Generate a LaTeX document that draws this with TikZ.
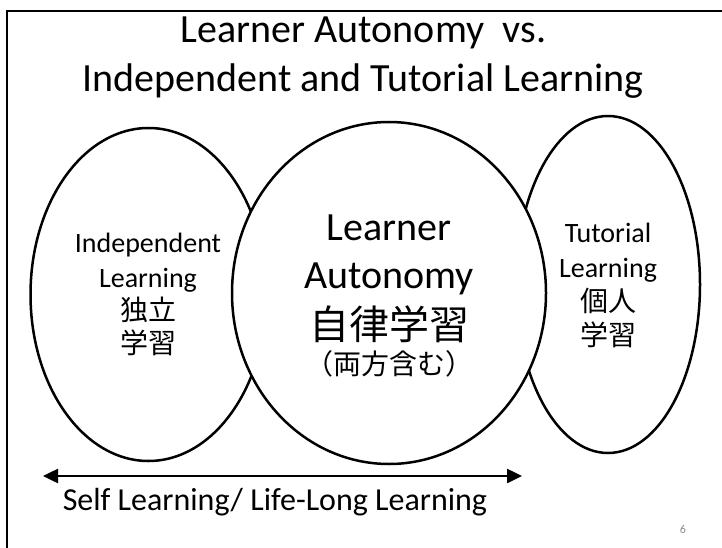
\documentclass[tikz,border=0pt]{standalone}
\usepackage{fontspec}
\setmainfont{Carlito}
\newfontfamily\jp{Noto Sans CJK JP}
\usetikzlibrary{shapes.geometric,arrows.meta}
\definecolor{pgnum}{HTML}{8C8C8C}
\tikzset{
  oval/.style={draw, ellipse, line width=2.5pt, inner sep=0pt, fill=white},
  ttl/.style={anchor=base, inner sep=0pt, font=\fontsize{40}{48}\selectfont},
  big/.style={anchor=base, inner sep=0pt, font=\fontsize{40}{48}\selectfont},
  bigjp/.style={anchor=base, inner sep=0pt, font=\jp\fontsize{40}{48}\selectfont},
  side/.style={anchor=base, inner sep=0pt, font=\fontsize{28}{34}\selectfont},
  sidejp/.style={anchor=base, inner sep=0pt, font=\jp\fontsize{28}{34}\selectfont},
  foot/.style={anchor=base, inner sep=0pt, font=\fontsize{32}{38}\selectfont},
  line/.style={line width=2.5pt},
}
\begin{document}
\begin{tikzpicture}[x=1pt,y=-1pt]
\useasboundingbox (0,0) rectangle (722,548);
\clip (0,0) rectangle (722,548);
\draw[line] (7,11) rectangle (745,575);

% title
\node[ttl] (t1) at (363.5,43) {Learner Autonomy~~vs.};
\node[ttl] (t2) at (363,92) {Independent and Tutorial Learning};

% ellipses (centre one drawn last, on top)
\node[oval, minimum width=236pt, minimum height=333pt] (L) at (148.5,294.5) {};
\node[oval, minimum width=184pt, minimum height=337pt] (R) at (608,284.5) {};
\node[oval, minimum width=314pt, minimum height=342pt] (C) at (389,293) {};

% left text
\node[side]   (l1) at (148,252) {Independent};
\node[side]   (l2) at (148,287) {Learning};
\node[sidejp] (l3) at (148,320) {独立};
\node[sidejp] (l4) at (148,353) {学習};

% centre text
\node[big]    (c1) at (389,240) {Learner};
\node[big]    (c2) at (389,288) {Autonomy};
\node[bigjp]  (c3) at (389,339) {自律学習};
\node[sidejp] (c4) at (389,374) {（両方含む）};

% right text
\node[side]   (r1) at (608,242) {Tutorial};
\node[side]   (r2) at (608,277) {Learning};
\node[sidejp] (r3) at (608,311) {個人};
\node[sidejp] (r4) at (608,345) {学習};

% arrow and caption
\coordinate (aL) at (43,476);
\coordinate (aR) at (522,476);
\draw[line, {Triangle[length=15pt,width=14pt]}-{Triangle[length=15pt,width=14pt]}] (aL) -- (aR);
\node[foot] (f) at (275,510) {Self Learning/ Life-Long Learning};

\node[inner sep=0pt, text=pgnum, font=\fontsize{12}{14}\selectfont] (pg) at (683,529) {6};
\end{tikzpicture}
\end{document}
